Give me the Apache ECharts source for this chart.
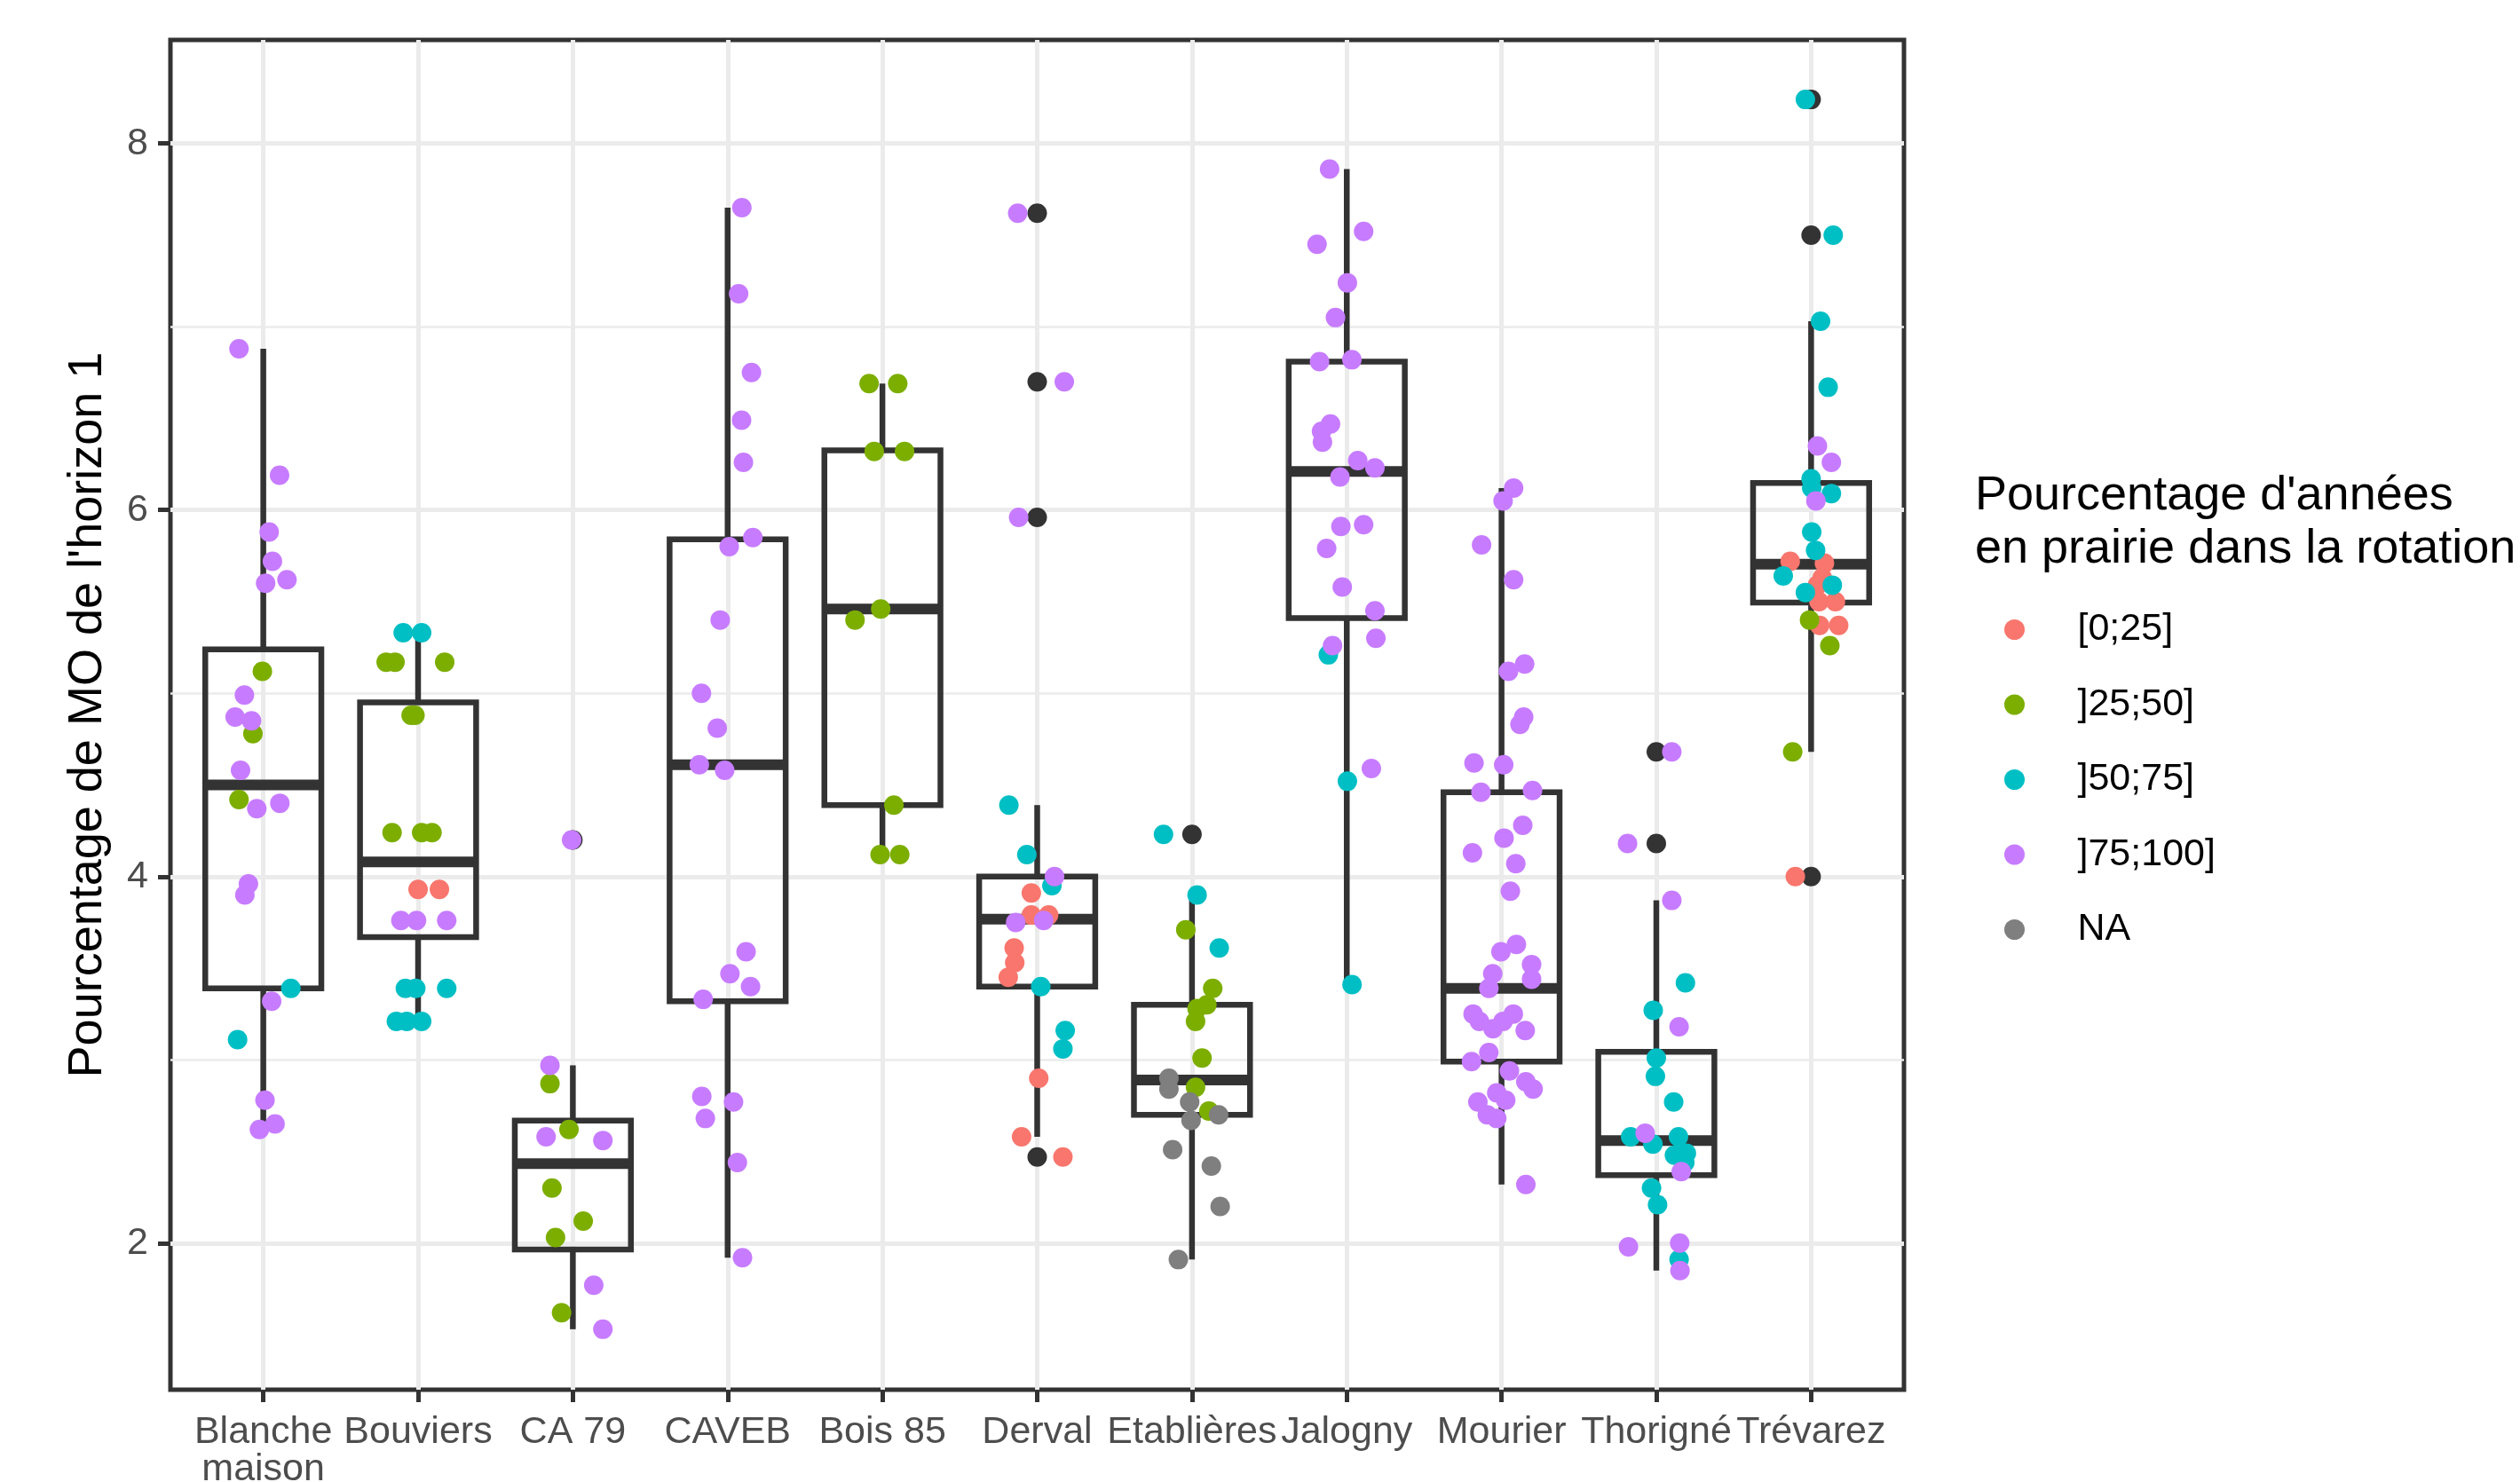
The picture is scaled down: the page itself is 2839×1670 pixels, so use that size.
<!DOCTYPE html>
<html><head><meta charset="utf-8">
<script src="https://cdn.jsdelivr.net/npm/echarts@6/dist/echarts.min.js"></script>
<style>html,body{margin:0;padding:0;background:#fff}#c{width:2839px;height:1670px}</style>
</head><body><div id="c"></div>
<script>
const categories = ['Blanche\nmaison','Bouviers','CA 79','CAVEB','Bois 85','Derval','Etablières','Jalogny','Mourier','Thorigné','Trévarez'];
const yTicks = [2,4,6,8];
const yMinorTicks = [3,5,7];
const groups = ['[0;25]', ']25;50]', ']50;75]', ']75;100]', 'NA'];
const groupColors = ['#F8766D','#7CAE00','#00BFC4','#C77CFF','#7F7F7F'];
const yAxisTitle = "Pourcentage de MO de l'horizon 1";
const legendTitle = "Pourcentage d'années\nen prairie dans la rotation";

// box stats per category: [lower whisker, Q1, median, Q3, upper whisker]
const boxStats = [
  [2.62, 3.39, 4.50, 5.24, 6.88],
  [3.21, 3.67, 4.08, 4.95, 5.33],
  [1.53, 1.965, 2.434, 2.669, 2.97],
  [1.92, 3.32, 4.61, 5.84, 7.65],
  [4.12, 4.39, 5.46, 6.325, 6.69],
  [2.58, 3.40, 3.767, 4.00, 4.39],
  [1.91, 2.70, 2.89, 3.30, 3.90],
  [3.41, 5.41, 6.21, 6.81, 7.86],
  [2.32, 2.99, 3.39, 4.46, 6.12],
  [1.85, 2.37, 2.56, 3.044, 3.87],
  [4.68, 5.495, 5.704, 6.148, 7.03]
];
// boxplot outliers: [category index, value]
const outliers = [[2,4.20],[5,7.62],[5,6.70],[5,5.96],[5,2.47],[6,4.23],[9,4.68],[9,4.18],[10,8.24],[10,7.50],[10,4.00]];

// jittered points: [category index, horizontal jitter, value]
const pts0_25 = [
  [1,0.0,3.93],[1,0.138,3.93],
  [5,-0.038,3.91],[5,-0.038,3.79],[5,0.074,3.79],[5,-0.149,3.61],[5,-0.145,3.53],[5,-0.187,3.45],[5,0.01,2.90],[5,-0.101,2.58],[5,0.166,2.47],
  [10,-0.135,5.72],[10,0.086,5.71],[10,0.072,5.63],[10,0.041,5.59],[10,0.051,5.50],[10,0.157,5.50],[10,0.055,5.37],[10,0.178,5.37],[10,-0.102,4.00]
];
const pts25_50 = [
  [0,-0.006,5.12],[0,-0.067,4.78],[0,-0.157,4.42],
  [1,-0.206,5.17],[1,-0.149,5.17],[1,0.172,5.17],[1,-0.045,4.88],[1,-0.02,4.88],[1,-0.168,4.24],[1,0.023,4.24],[1,0.09,4.24],
  [2,-0.148,2.87],[2,-0.025,2.62],[2,-0.135,2.30],[2,0.067,2.12],[2,-0.112,2.03],[2,-0.073,1.62],
  [4,-0.086,6.69],[4,0.099,6.69],[4,-0.053,6.32],[4,0.143,6.32],[4,-0.011,5.46],[4,-0.177,5.40],[4,0.074,4.39],[4,-0.015,4.12],[4,0.112,4.12],
  [6,-0.04,3.71],[6,0.134,3.39],[6,0.096,3.30],[6,0.033,3.28],[6,0.023,3.21],[6,0.065,3.01],[6,0.023,2.85],[6,0.109,2.72],
  [10,-0.01,5.40],[10,0.121,5.26],[10,-0.119,4.68]
];
const pts50_75 = [
  [0,0.178,3.39],[0,-0.166,3.11],
  [1,-0.096,5.33],[1,0.023,5.33],[1,-0.082,3.39],[1,-0.015,3.39],[1,0.185,3.39],[1,-0.14,3.21],[1,-0.073,3.21],[1,0.023,3.21],
  [5,-0.183,4.39],[5,-0.067,4.12],[5,0.095,3.95],[5,0.023,3.40],[5,0.181,3.16],[5,0.166,3.06],
  [6,-0.184,4.23],[6,0.033,3.90],[6,0.176,3.61],
  [7,-0.119,5.21],[7,0.004,4.52],[7,0.034,3.41],
  [9,0.188,3.42],[9,-0.02,3.27],[9,0,3.01],[9,-0.006,2.91],[9,0.112,2.77],[9,-0.166,2.58],[9,-0.022,2.54],[9,0.143,2.58],[9,0.117,2.48],[9,0.194,2.49],[9,0.184,2.44],[9,-0.031,2.30],[9,0.008,2.21],[9,0.147,1.91],
  [10,-0.037,8.24],[10,0.143,7.50],[10,0.061,7.03],[10,0.11,6.67],[10,0,6.17],[10,0.004,6.12],[10,0.131,6.09],[10,0.004,5.88],[10,0.029,5.78],[10,-0.18,5.64],[10,0.137,5.59],[10,-0.037,5.55]
];
const pts75_100 = [
  [0,-0.157,6.88],[0,0.105,6.19],[0,0.038,5.88],[0,0.059,5.72],[0,0.015,5.60],[0,0.153,5.62],[0,-0.122,4.99],[0,-0.182,4.87],[0,-0.076,4.85],[0,-0.147,4.58],[0,-0.042,4.37],[0,0.107,4.40],[0,-0.096,3.96],[0,-0.119,3.90],[0,0.054,3.32],[0,0.011,2.78],[0,0.076,2.65],[0,-0.025,2.62],
  [1,-0.111,3.76],[1,-0.01,3.76],[1,0.185,3.76],
  [2,-0.008,4.20],[2,-0.148,2.97],[2,-0.173,2.58],[2,0.194,2.56],[2,0.135,1.77],[2,0.194,1.53],
  [3,0.092,7.65],[3,0.071,7.18],[3,0.154,6.75],[3,0.09,6.49],[3,0.102,6.26],[3,0.01,5.80],[3,0.163,5.85],[3,-0.048,5.40],[3,-0.169,5.00],[3,-0.067,4.81],[3,-0.183,4.61],[3,-0.019,4.58],[3,0.119,3.59],[3,0.015,3.47],[3,0.148,3.40],[3,-0.158,3.33],[3,-0.167,2.80],[3,-0.144,2.68],[3,0.038,2.77],[3,0.063,2.44],[3,0.096,1.92],
  [5,-0.126,7.62],[5,0.175,6.70],[5,-0.12,5.96],[5,0.112,4.00],[5,-0.139,3.75],[5,0.042,3.76],
  [7,-0.111,7.86],[7,0.109,7.52],[7,-0.192,7.45],[7,0.004,7.24],[7,-0.073,7.05],[7,-0.176,6.81],[7,0.033,6.82],[7,-0.105,6.47],[7,-0.163,6.43],[7,-0.157,6.37],[7,0.071,6.27],[7,0.182,6.23],[7,-0.044,6.18],[7,-0.038,5.91],[7,0.109,5.92],[7,-0.13,5.79],[7,-0.029,5.58],[7,0.182,5.45],[7,0.188,5.30],[7,-0.092,5.26],[7,0.159,4.59],
  [8,0.078,6.12],[8,0.01,6.05],[8,-0.129,5.81],[8,0.078,5.62],[8,0.149,5.16],[8,0.045,5.12],[8,0.143,4.87],[8,0.119,4.83],[8,-0.178,4.62],[8,0.014,4.61],[8,-0.133,4.46],[8,0.2,4.47],[8,0.137,4.28],[8,0.016,4.21],[8,-0.188,4.13],[8,0.092,4.07],[8,0.057,3.92],[8,0.096,3.63],[8,-0.004,3.59],[8,0.194,3.52],[8,0.194,3.44],[8,-0.057,3.47],[8,-0.082,3.39],[8,-0.184,3.25],[8,-0.143,3.21],[8,-0.055,3.17],[8,0.01,3.21],[8,0.076,3.25],[8,0.153,3.16],[8,-0.082,3.04],[8,-0.194,2.99],[8,0.051,2.94],[8,0.157,2.88],[8,0.204,2.84],[8,-0.031,2.82],[8,0.027,2.78],[8,-0.153,2.77],[8,-0.092,2.70],[8,-0.031,2.68],[8,0.157,2.32],
  [9,0.10,4.68],[9,-0.186,4.18],[9,0.10,3.87],[9,0.147,3.18],[9,-0.072,2.60],[9,0.161,2.39],[9,-0.18,1.98],[9,0.151,2.00],[9,0.153,1.85],
  [10,0.041,6.35],[10,0.131,6.26],[10,0.031,6.05]
];
const ptsNA = [
  [6,-0.149,2.90],[6,-0.149,2.84],[6,-0.015,2.77],[6,-0.006,2.67],[6,0.172,2.70],[6,-0.125,2.51],[6,0.125,2.42],[6,0.182,2.20],[6,-0.088,1.91]
];
const groupPoints = [pts0_25, pts25_50, pts50_75, pts75_100, ptsNA];

const FONT = "'Liberation Sans', Arial, sans-serif";
const chart = echarts.init(document.getElementById('c'), null, {renderer: 'canvas'});
const catIdx = categories.map((c, i) => i);

const boxSeries = {
  type: 'custom',
  xAxisIndex: 0, yAxisIndex: 0,
  z: 2,
  data: boxStats.map((s, i) => [i].concat(s)),
  encode: {x: 0, y: [1, 2, 3, 4, 5]},
  renderItem: function (params, api) {
    const i = api.value(0);
    const hw = 0.375;
    const lo = api.coord([i - hw, api.value(2)]);
    const hi = api.coord([i + hw, api.value(4)]);
    const med = api.coord([i, api.value(3)]);
    const wmin = api.coord([i, api.value(1)]);
    const wmax = api.coord([i, api.value(5)]);
    const st = {stroke: '#333333', lineWidth: 6.5, fill: null};
    return {type: 'group', children: [
      {type: 'line', shape: {x1: wmax[0], y1: wmax[1], x2: wmax[0], y2: hi[1]}, style: st},
      {type: 'line', shape: {x1: wmin[0], y1: lo[1], x2: wmin[0], y2: wmin[1]}, style: st},
      {type: 'rect', shape: {x: lo[0], y: hi[1], width: hi[0] - lo[0], height: lo[1] - hi[1]}, style: st},
      {type: 'line', shape: {x1: lo[0], y1: med[1], x2: hi[0], y2: med[1]}, style: {stroke: '#333333', lineWidth: 12}}
    ]};
  }
};

const outlierSeries = {
  type: 'scatter', name: 'outliers', xAxisIndex: 0, yAxisIndex: 0, z: 3,
  symbol: 'circle', symbolSize: 22,
  itemStyle: {color: '#333333', opacity: 1},
  data: outliers.map(o => [o[0], o[1]])
};

const jitterSeries = groups.map((g, k) => ({
  type: 'scatter', name: g, xAxisIndex: 0, yAxisIndex: 0, z: 4,
  symbol: 'circle', symbolSize: 22,
  itemStyle: {color: groupColors[k], opacity: 1},
  data: groupPoints[k].map(p => [p[0] + p[1], p[2]])
}));

const option = {
  animation: false,
  backgroundColor: '#ffffff',
  textStyle: {fontFamily: FONT},
  title: {
    text: legendTitle,
    left: 2225, top: 529, padding: 0,
    textStyle: {fontFamily: FONT, fontSize: 54, fontWeight: 'normal', color: '#000000', lineHeight: 60}
  },
  legend: {
    orient: 'vertical', left: 2258, top: 688, padding: 0,
    itemWidth: 132, itemHeight: 23, itemGap: 41.5,
    icon: 'circle', selectedMode: false,
    data: groups,
    textStyle: {fontFamily: FONT, fontSize: 43, color: '#000000', lineHeight: 43}
  },
  grid: {
    left: 192, top: 45, width: 1953, height: 1521,
    show: true, borderColor: '#333333', borderWidth: 5, backgroundColor: 'transparent',
    containLabel: false, outerBoundsMode: 'none'
  },
  xAxis: [{
    type: 'value', min: -0.6, max: 10.6,
    axisLine: {show: false, onZero: false},
    axisTick: {show: true, length: 14, lineStyle: {color: '#333333', width: 5}, customValues: catIdx},
    axisLabel: {show: true, customValues: catIdx, margin: 27, fontFamily: FONT, fontSize: 43, color: '#4D4D4D', lineHeight: 42,
      formatter: v => categories[Math.round(v)] || ''},
    splitLine: {show: true, lineStyle: {color: '#EBEBEB', width: 5}}
  }],
  yAxis: [{
    type: 'value', min: 1.20, max: 8.565, position: 'left',
    name: yAxisTitle, nameLocation: 'middle', nameGap: 66,
    nameTextStyle: {fontFamily: FONT, fontSize: 54, color: '#000000'},
    axisLine: {show: false, onZero: false},
    axisTick: {show: true, length: 14, lineStyle: {color: '#333333', width: 5}, customValues: yTicks},
    axisLabel: {show: true, customValues: yTicks, margin: 25, fontFamily: FONT, fontSize: 43, color: '#4D4D4D'},
    splitLine: {show: true, lineStyle: {color: '#EBEBEB', width: 5}}
  }, {
    type: 'value', min: 1.20, max: 8.565, position: 'left',
    axisLine: {show: false, onZero: false},
    axisTick: {show: false, customValues: yMinorTicks},
    axisLabel: {show: false, customValues: yMinorTicks},
    splitLine: {show: true, lineStyle: {color: '#EBEBEB', width: 2.5}}
  }],
  series: [boxSeries, outlierSeries].concat(jitterSeries)
};
chart.setOption(option);
</script>
</body></html>
